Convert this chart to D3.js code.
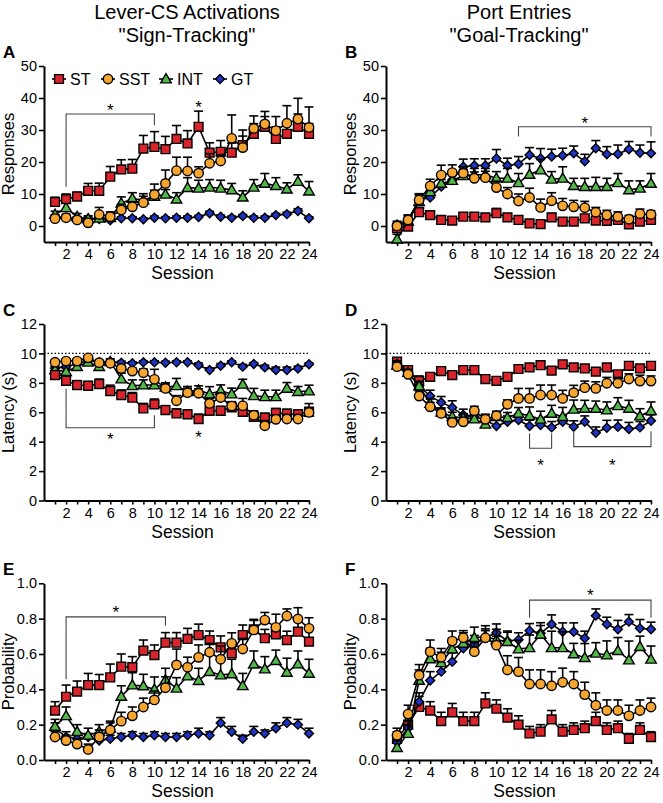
<!DOCTYPE html>
<html><head><meta charset="utf-8">
<script src="https://cdn.jsdelivr.net/npm/d3@7"></script>
<style>body{margin:0;background:#fff;} text{font-family:"Liberation Sans",Arial,Helvetica,sans-serif;fill:#000;}</style>
</head><body><svg id="c" width="663" height="803" xmlns="http://www.w3.org/2000/svg"></svg>
<script>
const sessions = [1,2,3,4,5,6,7,8,9,10,11,12,13,14,15,16,17,18,19,20,21,22,23,24];
const groups = ["ST","SST","INT","GT"];

// Panel A: Lever-CS activations (responses)
const A_ST  = [7.5,8.4,9.2,11,11,15.4,17.7,17.9,24.2,24.7,24,27.2,25.8,31,22.9,23.2,22.9,25.3,28.8,31,27.2,28.8,31,28.8];
const A_STe = [1.5,1.6,1.4,2.3,2.4,3.2,3.0,2.9,4.1,4.8,4.0,4.2,4.0,4.9,3.1,3.5,3.0,2.8,3.2,3.2,3.8,3.4,4.0,3.2];
const A_SST = [2.3,2.6,1.9,1.0,3.6,2.9,5.0,6.0,7.3,9.8,13.3,17.3,17.2,16.5,19.6,20.3,27.4,24.5,30.5,31.9,29.8,32.1,33.4,30.8];
const A_SSTe= [1.0,1.1,1.0,1.0,2.2,1.5,1.8,1.6,2.0,3.3,4.2,4.2,4.3,2.0,3.0,2.0,7.3,5.5,3.9,3.9,4.4,5.5,6.5,6.4];
const A_INT = [3.6,5.7,2.9,2.2,2.4,2.6,7.1,8.6,8.1,9.2,9.9,8.4,12.0,11.8,12.1,11.8,11.3,9.0,12.1,13.3,12.6,11.5,13.9,10.9];
const A_INTe= [1.0,1.5,1.0,1.0,1.0,1.0,2.0,1.8,2.0,2.0,1.5,2.0,3.1,2.5,2.4,2.5,2.0,2.0,2.4,3.1,2.5,2.0,2.1,3.0];
const A_GT  = [3.0,2.5,2.3,2.3,2.2,1.8,2.4,2.4,2.1,2.6,2.4,2.6,2.6,2.8,4.0,2.9,2.6,3.1,2.6,2.6,3.4,3.7,4.7,2.4];
const A_GTe = [0.5,0.6,0.5,0.5,0.5,0.4,0.5,0.5,0.4,0.5,0.4,0.5,0.5,0.5,0.6,0.5,0.5,0.5,0.5,0.5,0.5,0.6,0.7,0.5];

// Panel B: Port entries (responses)
const B_ST  = [-0.7,-0.2,4.3,3.4,1.9,1.7,2.9,2.9,2.7,4.0,2.7,1.9,0.8,0.6,2.7,1.4,1.4,2.4,1.7,1.6,1.9,0.5,1.4,1.9];
const B_STe = [1.0,1.0,1.5,1.2,1.0,1.0,1.0,1.0,1.0,1.5,1.0,1.0,1.0,1.0,1.2,1.0,1.0,1.0,1.0,1.0,1.0,1.0,1.0,1.0];
const B_SST = [0.0,1.9,8.1,12.5,15.9,16.7,16.5,14.9,15.1,12.0,10.0,7.8,8.9,5.8,7.9,6.3,6.0,5.7,4.3,3.4,2.9,2.1,3.8,3.6];
const B_SSTe= [1.0,1.5,1.9,2.1,3.1,2.4,2.0,2.0,2.0,2.0,2.0,2.2,2.9,2.6,2.5,2.3,2.0,2.0,1.5,1.5,1.5,1.2,1.5,1.2];
const B_INT = [-4.1,1.5,7.6,10.7,13.3,14.2,15.7,16.0,16.0,14.9,14.9,13.5,16.1,17.5,14.6,14.9,12.6,12.3,12.3,12.3,13.5,11.3,11.8,13.3];
const B_INTe= [1.5,1.5,2.0,2.2,2.5,2.0,2.0,2.0,2.0,2.1,3.1,2.9,3.4,3.3,2.4,3.6,2.3,2.6,2.9,2.6,2.9,2.8,2.3,3.1];
const B_GT  = [0.5,1.9,8.1,8.9,12.3,14.4,18.5,18.9,18.9,21.1,18.9,19.4,22.2,21.1,21.7,22.0,22.7,20.2,24.3,22.4,22.5,24.0,22.9,22.7];
const B_GTe = [1.0,1.5,2.0,2.0,2.2,2.0,2.4,2.1,2.1,2.8,2.3,2.3,2.3,3.1,2.3,2.3,2.3,2.2,2.4,2.4,2.8,2.4,2.4,3.6];

// Panel C: Lever latency (s)
const C_ST  = [8.53,8.14,7.85,7.80,7.92,7.44,7.17,6.99,6.26,6.54,6.15,5.92,5.86,5.54,6.10,6.10,6.33,6.03,5.69,5.63,5.95,5.90,5.86,6.03];
const C_STe = [0.2,0.2,0.3,0.3,0.34,0.4,0.35,0.35,0.34,0.36,0.3,0.3,0.3,0.34,0.3,0.3,0.3,0.3,0.3,0.3,0.3,0.3,0.3,0.3];
const C_SST = [9.40,9.48,9.48,9.70,9.37,9.33,8.98,8.80,8.69,8.24,7.62,6.78,7.33,7.29,6.60,7.00,6.42,6.44,5.80,5.08,5.52,5.54,5.54,5.99];
const C_SSTe= [0.15,0.15,0.15,0.15,0.15,0.15,0.2,0.2,0.25,0.68,0.3,0.35,0.3,0.3,0.35,0.3,0.3,0.5,0.3,0.35,0.3,0.3,0.3,0.6];
const C_INT = [8.87,8.76,9.10,9.40,9.10,9.44,8.26,7.80,7.85,7.85,7.70,7.80,7.40,7.50,7.24,7.46,7.24,7.90,7.12,7.05,7.05,7.62,7.40,7.44];
const C_INTe= [0.2,0.2,0.2,0.2,0.2,0.2,0.4,0.4,0.35,0.35,0.3,0.5,0.35,0.3,0.5,0.4,0.4,0.34,0.5,0.45,0.45,0.4,0.35,0.4];
const C_GT  = [9.00,9.10,9.30,9.50,9.40,9.44,9.37,9.33,9.40,9.40,9.37,9.40,9.40,9.20,8.87,9.16,9.40,9.10,9.28,9.05,8.87,8.87,8.98,9.26];
const C_GTe = [0.15,0.15,0.15,0.1,0.1,0.1,0.1,0.1,0.1,0.1,0.1,0.1,0.1,0.15,0.15,0.15,0.1,0.15,0.1,0.15,0.2,0.2,0.15,0.1];

// Panel D: Port latency (s)
const D_ST  = [9.44,8.87,8.12,8.41,8.80,8.53,8.87,8.87,8.26,8.14,8.41,8.94,9.05,9.20,8.83,9.26,9.05,8.98,8.76,9.05,8.58,9.16,8.98,9.16];
const D_STe = [0.2,0.2,0.35,0.2,0.2,0.2,0.2,0.2,0.2,0.2,0.2,0.2,0.2,0.2,0.2,0.2,0.2,0.2,0.2,0.2,0.2,0.2,0.2,0.2];
const D_SST = [9.10,8.58,7.10,6.37,5.92,5.31,5.35,6.10,5.52,5.76,6.54,6.94,6.94,7.17,7.17,6.94,7.33,7.67,7.62,7.97,7.97,8.26,8.12,8.12];
const D_SSTe= [0.2,0.2,0.35,0.3,0.3,0.3,0.3,0.3,0.3,0.3,0.3,0.68,0.68,0.68,0.68,0.55,0.5,0.45,0.45,0.4,0.4,0.35,0.4,0.35];
const D_INT = [9.20,8.70,7.78,6.60,6.00,5.70,5.60,5.54,5.18,5.70,5.63,5.92,5.76,5.52,5.92,5.70,6.20,6.26,6.26,6.15,6.44,6.26,5.74,6.10];
const D_INTe= [0.2,0.2,0.3,0.3,0.3,0.3,0.3,0.3,0.3,0.35,0.35,0.4,0.6,0.55,0.55,0.63,0.63,0.55,0.5,0.55,0.55,0.55,0.5,0.6];
const D_GT  = [9.30,8.70,7.80,7.10,6.67,6.33,5.81,5.70,5.47,5.06,5.35,5.47,5.06,5.13,4.97,5.35,5.02,5.35,4.60,4.95,5.02,4.86,4.97,5.42];
const D_GTe = [0.2,0.2,0.3,0.4,0.4,0.45,0.4,0.4,0.4,0.4,0.4,0.4,0.4,0.4,0.4,0.4,0.4,0.4,0.4,0.5,0.45,0.45,0.4,0.4];

// Panel E: Lever probability
const E_ST  = [0.28,0.358,0.387,0.424,0.424,0.468,0.528,0.525,0.619,0.594,0.664,0.664,0.685,0.707,0.679,0.638,0.604,0.707,0.74,0.689,0.711,0.679,0.726,0.67];
const E_STe = [0.05,0.066,0.06,0.066,0.06,0.075,0.072,0.06,0.06,0.057,0.057,0.057,0.06,0.062,0.051,0.064,0.05,0.057,0.05,0.05,0.053,0.05,0.062,0.075];
const E_SST = [0.13,0.11,0.09,0.06,0.13,0.17,0.22,0.25,0.30,0.34,0.409,0.538,0.525,0.581,0.61,0.57,0.66,0.628,0.736,0.792,0.751,0.815,0.798,0.745];
const E_SSTe= [0.03,0.03,0.03,0.03,0.04,0.04,0.05,0.05,0.05,0.05,0.062,0.09,0.057,0.07,0.05,0.075,0.06,0.06,0.06,0.043,0.074,0.04,0.064,0.06];
const E_INT = [0.19,0.25,0.16,0.14,0.16,0.18,0.36,0.424,0.419,0.40,0.453,0.406,0.475,0.449,0.50,0.481,0.487,0.42,0.542,0.515,0.562,0.496,0.543,0.49];
const E_INTe= [0.04,0.05,0.04,0.04,0.04,0.04,0.06,0.07,0.066,0.07,0.066,0.06,0.06,0.07,0.094,0.09,0.083,0.07,0.075,0.07,0.06,0.08,0.074,0.08];
const E_GT  = [0.18,0.13,0.12,0.13,0.11,0.12,0.13,0.14,0.13,0.14,0.13,0.13,0.14,0.15,0.14,0.21,0.16,0.12,0.16,0.15,0.18,0.21,0.20,0.15];
const E_GTe = [0.03,0.03,0.02,0.02,0.02,0.02,0.02,0.02,0.02,0.02,0.02,0.02,0.02,0.03,0.02,0.03,0.03,0.02,0.03,0.02,0.03,0.03,0.03,0.03];

// Panel F: Port probability
const F_ST  = [0.12,0.20,0.30,0.28,0.22,0.27,0.22,0.22,0.32,0.29,0.24,0.20,0.15,0.16,0.23,0.16,0.17,0.18,0.22,0.17,0.18,0.12,0.17,0.13];
const F_STe = [0.04,0.05,0.06,0.05,0.05,0.05,0.05,0.05,0.06,0.05,0.05,0.05,0.04,0.04,0.05,0.04,0.04,0.04,0.05,0.04,0.04,0.03,0.04,0.03];
const F_SST = [0.14,0.26,0.48,0.613,0.581,0.673,0.692,0.613,0.692,0.65,0.51,0.50,0.43,0.43,0.42,0.44,0.43,0.37,0.31,0.28,0.28,0.25,0.28,0.30];
const F_SSTe= [0.04,0.05,0.06,0.066,0.05,0.057,0.04,0.05,0.04,0.05,0.08,0.08,0.08,0.08,0.08,0.08,0.07,0.07,0.07,0.06,0.06,0.06,0.06,0.05];
const F_INT = [0.07,0.15,0.45,0.572,0.55,0.628,0.66,0.692,0.70,0.68,0.67,0.628,0.635,0.711,0.635,0.635,0.60,0.579,0.604,0.594,0.619,0.566,0.641,0.57];
const F_INTe= [0.04,0.05,0.06,0.06,0.06,0.06,0.06,0.06,0.06,0.06,0.06,0.05,0.072,0.05,0.094,0.09,0.06,0.08,0.06,0.08,0.074,0.107,0.06,0.075];
const F_GT  = [0.10,0.18,0.33,0.45,0.50,0.556,0.632,0.655,0.692,0.72,0.673,0.68,0.732,0.717,0.768,0.726,0.726,0.689,0.817,0.768,0.74,0.783,0.745,0.74];
const F_GTe = [0.03,0.04,0.05,0.05,0.05,0.05,0.06,0.05,0.05,0.05,0.05,0.04,0.04,0.06,0.053,0.05,0.05,0.04,0.038,0.04,0.05,0.04,0.05,0.04];

const yTicksResp = [0,10,20,30,40,50];
const yTicksLat  = [0,2,4,6,8,10,12];
const yTicksProb = [0,0.2,0.4,0.6,0.8,1.0];
const xTickLabels = [2,4,6,8,10,12,14,16,18,20,22,24];

const colors = {ST:"#d8242a", SST:"#f6a530", INT:"#52b948", GT:"#1f33c4"};
const svg = d3.select("#c");

function symbolPath(name){
  if(name==="ST")  return d3.symbol(d3.symbolSquare, 78)();
  if(name==="SST") return d3.symbol(d3.symbolCircle, 70)();
  if(name==="INT") return d3.symbol(d3.symbolTriangle, 48)();
  return d3.symbol(d3.symbolSquare, 40)();
}
function symTransform(name, cx, cy){
  return name==="GT" ? `translate(${cx},${cy}) rotate(45)` : (name==="INT" ? `translate(${cx},${cy+0.8})` : `translate(${cx},${cy})`);
}

function panel(cfg){
  const x = d3.scaleLinear().domain([0,24]).range([cfg.x0, cfg.x1]);
  const y = d3.scaleLinear().domain(cfg.ydom).range([cfg.yb, cfg.yt]);
  const g = svg.append("g");

  // reference line
  if(cfg.refLine!==undefined){
    g.append("line").attr("x1",x(0)).attr("x2",x(24)).attr("y1",y(cfg.refLine)).attr("y2",y(cfg.refLine))
      .attr("stroke","#000").attr("stroke-width",1.3).attr("stroke-dasharray","1.5,2");
  }

  // axes
  const ya = g.append("g").attr("transform",`translate(${cfg.x0},0)`)
    .call(d3.axisLeft(y).tickValues(cfg.yticks).tickSize(5).tickSizeOuter(0).tickPadding(2).tickFormat(cfg.fmt));
  const xa = g.append("g").attr("transform",`translate(0,${cfg.yb})`)
    .call(d3.axisBottom(x).tickValues(sessions).tickSize(4).tickSizeOuter(0).tickPadding(3)
      .tickFormat(d => xTickLabels.includes(d) ? d : ""));
  [ya,xa].forEach(a=>{
    a.select(".domain").attr("stroke","#000").attr("stroke-width",2);
    a.selectAll(".tick line").attr("stroke","#000").attr("stroke-width",1.6);
    a.selectAll(".tick text").attr("font-size","14.5px").attr("fill","#000");
  });
  g.append("text").attr("x",(cfg.x0+cfg.x1)/2+6).attr("y",cfg.yb+37).attr("text-anchor","middle")
    .attr("font-size","17.5px").text("Session");
  g.append("text").attr("transform",`translate(${cfg.x0-30},${(cfg.yb+cfg.yt)/2}) rotate(-90)`)
    .attr("text-anchor","middle").attr("font-size","16.5px").text(cfg.ylabel);

  // panel letter
  g.append("text").attr("x",cfg.x0-41).attr("y",cfg.yt-8).attr("font-size","17px").attr("font-weight","bold").text(cfg.letter);

  // series
  cfg.series.forEach(s=>{
    const sg = g.append("g");
    s.m.forEach((v,i)=>{
      const cx = x(sessions[i]), y1 = y(v), y2 = y(v+s.e[i]);
      sg.append("line").attr("x1",cx).attr("x2",cx).attr("y1",y1).attr("y2",y2).attr("stroke","#000").attr("stroke-width",1.6);
      sg.append("line").attr("x1",cx-4.5).attr("x2",cx+4.5).attr("y1",y2).attr("y2",y2).attr("stroke","#000").attr("stroke-width",1.6);
    });
    sg.append("path").datum(s.m)
      .attr("d", d3.line().x((d,i)=>x(sessions[i])).y(d=>y(d)))
      .attr("fill","none").attr("stroke","#000").attr("stroke-width",1.6);
    sg.selectAll("path.mk").data(s.m).join("path").attr("class","mk")
      .attr("d", symbolPath(s.name))
      .attr("transform",(d,i)=>symTransform(s.name, x(sessions[i]), y(d)))
      .attr("fill", colors[s.name]).attr("stroke","#000").attr("stroke-width",1.4);
  });

  // brackets
  (cfg.brackets||[]).forEach(b=>{
    const p = d3.path();
    p.moveTo(x(b.s1), y(b.v1)); p.lineTo(x(b.s1), y(b.v)); p.lineTo(x(b.s2), y(b.v)); p.lineTo(x(b.s2), y(b.v2));
    g.append("path").attr("d",p.toString()).attr("fill","none").attr("stroke","#444").attr("stroke-width",1.1);
  });
  (cfg.stars||[]).forEach(st=>{
    g.append("text").attr("x",x(st.s)).attr("y",y(st.v)+9).attr("text-anchor","middle").attr("font-size","17px").text("*");
  });
  return {x,y};
}

function ser(m,e,name){ return {m,e,name}; }

const L = {x0:44, x1:309}, R = {x0:386, x1:651};
const rowAB = {yb:242, yt:66, ydom:[-5,50], yticks:yTicksResp, fmt:d3.format("d")};
const rowCD = {yb:500.5, yt:324, ydom:[0,12], yticks:yTicksLat, fmt:d3.format("d")};
const rowEF = {yb:760, yt:583.3, ydom:[0,1], yticks:yTicksProb, fmt:d3.format(".1f")};

const pA = panel(Object.assign({}, L, rowAB, {letter:"A", ylabel:"Responses",
  series:[ser(A_GT,A_GTe,"GT"), ser(A_INT,A_INTe,"INT"), ser(A_ST,A_STe,"ST"), ser(A_SST,A_SSTe,"SST")],
  brackets:[{s1:2,s2:10,v:35,v1:12.3,v2:31.5}], stars:[{s:6,v:37.3},{s:14,v:38}]}));
panel(Object.assign({}, R, rowAB, {letter:"B", ylabel:"Responses",
  series:[ser(B_ST,B_STe,"ST"), ser(B_GT,B_GTe,"GT"), ser(B_INT,B_INTe,"INT"), ser(B_SST,B_SSTe,"SST")],
  brackets:[{s1:12,s2:24,v:31,v1:28,v2:28}], stars:[{s:18,v:33.1}]}));
panel(Object.assign({}, L, rowCD, {letter:"C", ylabel:"Latency (s)", refLine:10,
  series:[ser(C_GT,C_GTe,"GT"), ser(C_INT,C_INTe,"INT"), ser(C_ST,C_STe,"ST"), ser(C_SST,C_SSTe,"SST")],
  brackets:[{s1:2,s2:10,v:4.95,v1:7.6,v2:5.8}], stars:[{s:6,v:4.4},{s:14,v:4.5}]}));
panel(Object.assign({}, R, rowCD, {letter:"D", ylabel:"Latency (s)", refLine:10,
  series:[ser(D_ST,D_STe,"ST"), ser(D_GT,D_GTe,"GT"), ser(D_INT,D_INTe,"INT"), ser(D_SST,D_SSTe,"SST")],
  brackets:[{s1:13,s2:15,v:3.55,v1:4.56,v2:4.56},{s1:17,s2:24,v:3.66,v1:4.7,v2:4.7}],
  stars:[{s:14,v:2.6},{s:20.5,v:2.6}]}));
panel(Object.assign({}, L, rowEF, {letter:"E", ylabel:"Probability",
  series:[ser(E_GT,E_GTe,"GT"), ser(E_INT,E_INTe,"INT"), ser(E_ST,E_STe,"ST"), ser(E_SST,E_SSTe,"SST")],
  brackets:[{s1:2,s2:11,v:0.81,v1:0.457,v2:0.76}], stars:[{s:6.5,v:0.855}]}));
panel(Object.assign({}, R, rowEF, {letter:"F", ylabel:"Probability",
  series:[ser(F_ST,F_STe,"ST"), ser(F_GT,F_GTe,"GT"), ser(F_INT,F_INTe,"INT"), ser(F_SST,F_SSTe,"SST")],
  brackets:[{s1:13,s2:24,v:0.905,v1:0.805,v2:0.805}], stars:[{s:18.5,v:0.95}]}));

// legend (panel A)
const leg = svg.append("g");
const legX = [59, 108, 166, 220];
groups.forEach((gname,i)=>{
  const cx = legX[i], cy = 79;
  leg.append("line").attr("x1",cx-7).attr("x2",cx+7).attr("y1",cy).attr("y2",cy).attr("stroke","#000").attr("stroke-width",1.6);
  leg.append("path").attr("d",symbolPath(gname)).attr("transform",symTransform(gname,cx,cy))
    .attr("fill",colors[gname]).attr("stroke","#000").attr("stroke-width",1.4);
  leg.append("text").attr("x",cx+11).attr("y",cy+5.5).attr("font-size","16px").text(gname);
});

// titles
const titles = [
  {x:187, l1:"Lever-CS Activations", l2:"\"Sign-Tracking\""},
  {x:519, l1:"Port Entries", l2:"\"Goal-Tracking\""}
];
titles.forEach(t=>{
  svg.append("text").attr("x",t.x).attr("y",19).attr("text-anchor","middle").attr("font-size","20px").text(t.l1);
  svg.append("text").attr("x",t.x).attr("y",42).attr("text-anchor","middle").attr("font-size","20px").text(t.l2);
});
</script></body></html>
